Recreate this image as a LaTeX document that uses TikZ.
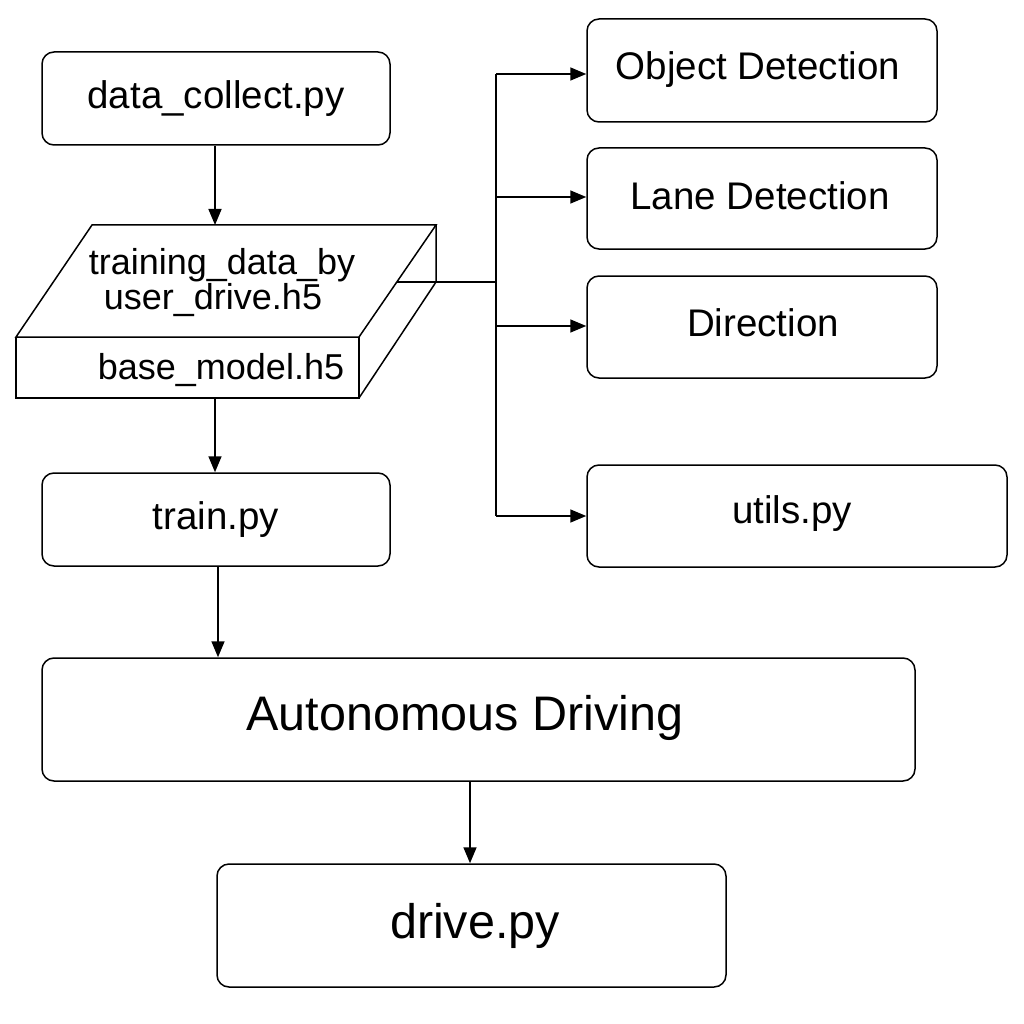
\documentclass[tikz,border=0pt]{standalone}
\usepackage{fontspec}
\setmainfont{Liberation Sans}
\usetikzlibrary{arrows.meta}
\begin{document}
\begin{tikzpicture}[x=1pt,y=-1pt,
  box/.style={draw, line width=1.5pt, rounded corners=12pt, inner sep=0pt},
  conn/.style={line width=1.6pt},
  arr/.style={line width=1.6pt, -{Triangle[length=16pt,width=13pt]}},
  mid/.style={font=\fontsize{38.5}{41}\selectfont},
  big/.style={font=\fontsize{48.5}{52}\selectfont},
  small/.style={font=\fontsize{36}{38}\selectfont}]
\useasboundingbox (0,0) rectangle (1024,1024);
% boxes
\node[box, mid, minimum width=348pt, minimum height=93pt] (dc) at (216,98.5) {data\_collect.py};
\node[box, mid, minimum width=348pt, minimum height=93pt] (tr) at (216,519.5) {train.py};
\node[box, big, minimum width=873pt, minimum height=123pt] (ad) at (478.5,719.5) {};
\node[big] (adt) at (465,718) {Autonomous Driving};
\node[box, big, minimum width=509pt, minimum height=123pt] (dr) at (471.5,925.5) {};
\node[big] (drt) at (475,926) {drive.py};
\node[box, mid, minimum width=350pt, minimum height=103pt] (od) at (762,70.5) {};
\node[mid] (odt) at (758,70) {Object Detection};
\node[box, mid, minimum width=350pt, minimum height=101pt] (ld) at (762,198.5) {};
\node[mid] (ldt) at (760,196) {Lane Detection};
\node[box, mid, minimum width=350pt, minimum height=102pt] (di) at (762,327) {};
\node[mid] (dit) at (763,323) {Direction};
\node[box, mid, minimum width=420pt, minimum height=102pt] (ut) at (797,516) {};
\node[mid] (utt) at (792,514) {utils.py};
% slab
\coordinate (s1) at (16,337);
\coordinate (s2) at (92,225);
\coordinate (s3) at (436,225);
\coordinate (s4) at (359,337);
\coordinate (s5) at (436,282);
\coordinate (s6) at (359,398);
\coordinate (s7) at (16,398);
\draw[line width=1.5pt, line join=miter] (s1) -- (s2) -- (s3) -- (s4) -- cycle;
\draw[line width=1.5pt] (s1) -- (s7) -- (s6) -- (s4);
\draw[line width=1.5pt] (s3) -- (s5) -- (s6);
\node[small] (t1) at (222,265) {training\_data\_by};
\node[small] (t2) at (213,300) {user\_drive.h5};
\node[small] (t3) at (221,370) {base\_model.h5};
\coordinate (slabtop) at (215,225);
\coordinate (slabbot) at (215,398);
\coordinate (out) at (397,282);
\coordinate (trunk) at (496,282);
\coordinate (ttop) at (496,74);
\coordinate (tbot) at (496,516);
% connectors
\draw[arr] (dc.south -| slabtop) -- (slabtop);
\draw[arr] (slabbot) -- (tr.north -| slabbot);
\draw[arr] (218,566) -- (ad.north -| 218,0);
\draw[arr] (ad.south -| 470,0) -- (dr.north -| 470,0);
\draw[conn] (out) -- (trunk);
\draw[conn] (ttop) -- (tbot);
\draw[arr] (ttop) -- (od.west |- ttop);
\draw[arr] (496,197) -- (ld.west |- 0,197);
\draw[arr] (496,326) -- (di.west |- 0,326);
\draw[arr] (tbot) -- (ut.west |- tbot);
\end{tikzpicture}
\end{document}
